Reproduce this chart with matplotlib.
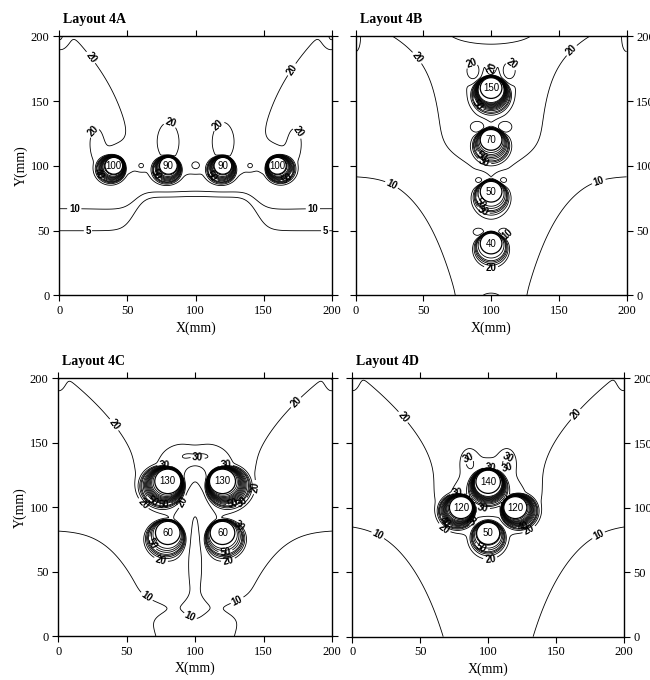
import numpy as np
import matplotlib.pyplot as plt
from matplotlib.patches import Circle

# --- chip layouts: centre (mm), peak temperature, disc radius (mm), tail direction (deg)
a_x = [40, 80, 120, 160]
a_y = [100, 100, 100, 100]
a_t = [100, 90, 90, 100]
a_r = [6.5, 6.5, 6.5, 6.5]
a_tail = [230, 250, 250, 310]

b_x = [100, 100, 100, 100]
b_y = [160, 120, 80, 40]
b_t = [150, 70, 50, 40]
b_r = [8, 8, 8, 8]
b_tail = [270, 270, 270, 270]

c_x = [80, 120, 80, 120]
c_y = [120, 120, 80, 80]
c_t = [130, 130, 60, 60]
c_r = [9.5, 9.5, 9, 9]
c_tail = [225, 315, 250, 290]

d_x = [100, 80, 120, 100]
d_y = [120, 100, 100, 80]
d_t = [140, 120, 120, 50]
d_r = [9, 8.5, 8.5, 8.5]
d_tail = [270, 225, 315, 270]

# background: lo, hi, front y (edge), front y (middle), front width (edge), front width (middle)
a_bg = [1, 16, 62, 80, 12, 3]
b_bg = [3, 18, 100, 100, 60, 60]
c_bg = [3, 18, 90, 90, 60, 60]
d_bg = [3, 18, 95, 95, 60, 60]

# warm central channel: amplitude, width at y=0, width growth
a_ch = [0, 20, 0.1]
b_ch = [10, 21, 0.1]
c_ch = [10, 22, 0.1]
d_ch = [10, 26, 0.1]

# warm plume widening toward the top wall: amplitude, start y, half width low/high, power
a_fun = [8, 110, 50, 90, 2]
b_fun = [9, 105, 47, 72, 5]
c_fun = [8.5, 110, 50, 92, 2]
d_fun = [8.5, 100, 46, 92, 2]

# ring tail length behind each chip (mm), share of chip heat spread widely
a_tl, b_tl, c_tl, d_tl = 5.0, 7.0, 8.0, 6.0
a_bf, b_bf, c_bf, d_bf = 0.07, 0.04, 0.05, 0.05

# local features (x, y, amplitude, sx, sy)
a_bumps = [(0, 200, 7, 4, 7), (200, 200, 7, 4, 7),
           (27, 119, 6, 4, 9), (173, 119, 6, 4, 9),
           (80, 118, -12, 5, 10), (120, 118, -12, 5, 10),
           (60, 100, 6, 2.2, 2.2), (100, 100, 6, 3, 3), (140, 100, 6, 2.2, 2.2)]
b_bumps = [(0, 195, 6, 4, 10), (200, 195, 6, 4, 10), (100, 203, 6, 14, 4),
           (100, -2, 7, 9, 4),
           (87, 173, -12, 3.5, 5), (113, 173, -12, 3.5, 5), (100, 176, -8, 2, 4),
           (90, 130, -12, 3.5, 3), (110, 130, -12, 3.5, 3),
           (91, 89, -12, 3.5, 3), (109, 89, -12, 3.5, 3),
           (91, 49, -12, 4, 3), (109, 49, -12, 4, 3)]
c_bumps = [(0, 200, 6, 3, 7), (200, 200, 6, 3, 7),
           (100, 22, -5, 25, 6), (100, 70, -12, 6, 40),
           (100, 140, 9, 12, 6)]
d_bumps = [(0, 200, 6, 3, 7), (200, 200, 6, 3, 7),
           (86, 136, 7, 4, 6), (114, 136, 7, 4, 6)]

# contour label anchors (mm)
a_lx = [20, 26, 83, 114, 171, 177, 29, 72, 113, 167, 11, 186, 21, 195]
a_ly = [181, 126, 138, 134, 174, 127, 94, 94, 93, 91, 68, 68, 43, 50]
b_lx = [39, 167, 86, 104, 115, 92, 94, 94, 94, 94, 113, 100, 24, 181]
b_ly = [178, 181, 178, 175, 178, 149, 108, 100, 73, 65, 46, 21, 80, 83]
c_lx = [36, 174, 148, 53, 102, 78, 122, 69, 77, 91, 126, 134, 132, 72, 122, 75, 124, 63, 131, 98]
c_ly = [160, 181, 115, 93, 140, 138, 137, 105, 107, 104, 109, 104, 86, 74, 67, 59, 59, 28, 27, 18]
d_lx = [33, 169, 85, 102, 115, 116, 77, 68, 67, 96, 91, 126, 131, 96, 102, 18, 182]
d_ly = [166, 168, 139, 137, 139, 128, 112, 89, 83, 99, 90, 85, 81, 71, 56, 77, 77]

n = 401
gx = np.linspace(0, 200, n)
X, Y = np.meshgrid(gx, gx)


def sig(z):
    return 1.0 / (1.0 + np.exp(-z))


def temperature(bg, ch, fun, chips, tl, bf, bumps):
    lo, hi, c_e, c_m, s_e, s_m = bg
    g = sig((X - 55) / 4) * sig((145 - X) / 4)
    c = c_e + (c_m - c_e) * g
    s = s_e + (s_m - s_e) * g
    T = lo + (hi - lo) * sig((Y - c) / s)
    hc, w0, w1 = ch
    T += hc * np.exp(-0.5 * ((X - 100) / (w0 + w1 * Y)) ** 2) * (1 - sig((Y - 110) / 15))
    H, y0, hw0, hw1, p = fun
    hw = hw0 + (hw1 - hw0) * np.clip((Y - y0) / (200 - y0), 0, 1) ** p
    T += H * np.exp(-np.log(2) * (np.abs(X - 100) / hw) ** 4) * sig((Y - y0) / 8)
    for xc, yc, tc, r, tail in zip(*chips):
        dx, dy = X - xc, Y - yc
        d = np.hypot(dx, dy)
        th = np.arctan2(dy, dx)
        w = ((1 + np.cos(th - np.radians(tail))) / 2) ** 1.5
        L = 1.0 + (tl - 1.0) * w
        T += tc * np.exp(-(np.maximum(d - r, 0) / L) ** 2)
        T += bf * tc * np.exp(-0.5 * (d / 12) ** 2)
    for bx, by, ba, bsx, bsy in bumps:
        T += ba * np.exp(-0.5 * ((X - bx) / bsx) ** 2 - 0.5 * ((Y - by) / bsy) ** 2)
    return T


panels = [
    ("Layout 4A", a_bg, a_ch, a_fun, (a_x, a_y, a_t, a_r, a_tail), a_tl, a_bf, a_bumps,
     (a_lx, a_ly), [0.0912, 0.5657, 0.4195, 0.381], "left"),
    ("Layout 4B", b_bg, b_ch, b_fun, (b_x, b_y, b_t, b_r, b_tail), b_tl, b_bf, b_bumps,
     (b_lx, b_ly), [0.547, 0.5657, 0.417, 0.381], "right"),
    ("Layout 4C", c_bg, c_ch, c_fun, (c_x, c_y, c_t, c_r, c_tail), c_tl, c_bf, c_bumps,
     (c_lx, c_ly), [0.0897, 0.0647, 0.421, 0.379], "left"),
    ("Layout 4D", d_bg, d_ch, d_fun, (d_x, d_y, d_t, d_r, d_tail), d_tl, d_bf, d_bumps,
     (d_lx, d_ly), [0.542, 0.0637, 0.418, 0.3797], "right"),
]

# labelled and unlabelled isotherms are drawn as two sets
lab_levels = [5, 10, 20, 30, 40, 50]
plain_levels = [25, 35] + list(range(60, 155, 10))
serif = "Liberation Serif"
sans = "Liberation Sans"

fig = plt.figure(figsize=(6.5, 6.8), dpi=100)

for title, bg, ch, fun, chips, tl, bf, bumps, labpos, rect, side in panels:
    ax = fig.add_axes(rect)
    T = temperature(bg, ch, fun, chips, tl, bf, bumps)
    ax.contour(X, Y, T, levels=plain_levels, colors="k", linewidths=0.6)
    cs = ax.contour(X, Y, T, levels=lab_levels, colors="k", linewidths=0.6)
    lbls = ax.clabel(cs, fmt="%d", fontsize=7, inline=True, inline_spacing=1,
                     manual=list(zip(*labpos)))
    for t in lbls:
        t.set_fontfamily(sans)
        t.set_fontweight("bold")

    for xc, yc, tc, r, _ in zip(*chips):
        ax.add_patch(Circle((xc, yc), r, facecolor="white", edgecolor="k", lw=0.9, zorder=3))
        ax.text(xc, yc, str(tc), ha="center", va="center", fontsize=7,
                family=sans, zorder=4)

    ax.set_xlim(0, 200)
    ax.set_ylim(0, 200)
    ax.set_xticks([0, 50, 100, 150, 200])
    ax.set_yticks([0, 50, 100, 150, 200])
    ax.tick_params(direction="out", length=4, width=0.8, top=True, right=True,
                   labelsize=9, pad=3)
    if side == "right":
        ax.tick_params(labelleft=False, labelright=True)
    for lab in ax.get_xticklabels() + ax.get_yticklabels():
        lab.set_fontfamily(serif)
    for sp in ax.spines.values():
        sp.set_linewidth(1.0)
    ax.set_xlabel("X(mm)", fontsize=10, family=serif, labelpad=3)
    if side == "left":
        ax.set_ylabel("Y(mm)", fontsize=10, family=serif, labelpad=2)
    ax.text(0.015, 1.04, title, transform=ax.transAxes, fontsize=10,
            family=serif, fontweight="bold", ha="left", va="bottom")

fig.savefig("out.png", dpi=100)
